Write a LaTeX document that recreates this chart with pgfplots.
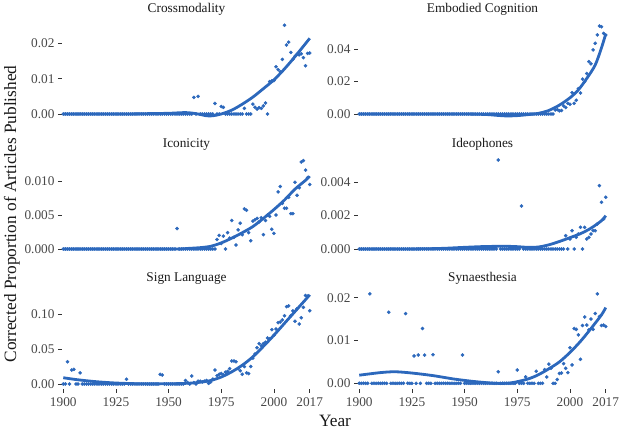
\documentclass[border=0pt]{standalone}
\usepackage{pgfplots}
\pgfplotsset{compat=1.18}
\usepackage{fontspec}
\setmainfont{Liberation Serif}
\definecolor{ptblue}{RGB}{44,104,188}
\pgfplotsset{
  panel/.style={
    scale only axis, width=249bp, height=98bp,
    anchor=south west,
    xmin=1899.4, xmax=2017.6,
    axis line style={draw=none},
    tick align=outside,
    major tick length=4bp,
    tick style={draw=black!80, line width=0.8bp},
    xtick=\empty,
    ytick pos=left, xtick pos=bottom,
    scaled y ticks=false, scaled x ticks=false,
    tick label style={font=\fontsize{13.3bp}{15bp}\selectfont, text=black!72},
    xticklabel style={yshift=-2bp},
    title style={at={(0.5,1)}, anchor=base, yshift=3bp, inner sep=0pt, font=\fontsize{13.3bp}{15bp}\selectfont, text=black!90},
    clip=false,
  },
  bottomrow/.style={xtick={1900,1925,1950,1975,2000,2017}, xticklabels={1900,1925,1950,1975,2000,2017}},
  pts/.style={only marks, mark=*, mark size=1.6bp, color=ptblue},
  fit/.style={no marks, color=ptblue, line width=2.8bp, smooth},
}
\begin{document}
\begin{tikzpicture}
\useasboundingbox (0,0) rectangle (619bp,429bp);
% ---------------- Crossmodality
\begin{axis}[panel, at={(62bp,310bp)}, title={Crossmodality},
  ymin=-0.00142, ymax=0.02642, ytick={0,0.01,0.02}, yticklabels={0.00,0.01,0.02}]
\addplot[pts] coordinates {
(1900,0)(1901,0)(1902,0)(1903,0)(1904,0)(1905,0)(1906,0)(1907,0)(1908,0)(1909,0)
(1910,0)(1911,0)(1912,0)(1913,0)(1914,0)(1915,0)(1916,0)(1917,0)(1918,0)(1919,0)
(1920,0)(1921,0)(1922,0)(1923,0)(1924,0)(1925,0)(1926,0)(1927,0)(1928,0)(1929,0)
(1930,0)(1931,0)(1932,0)(1933,0)(1934,0)(1935,0)(1936,0)(1937,0)(1938,0)(1939,0)
(1940,0)(1941,0)(1942,0)(1943,0)(1944,0)(1945,0)(1946,0)(1947,0)(1948,0)(1949,0)
(1950,0)(1951,0)(1952,0)(1953,0)(1954,0)(1955,0)(1956,0)(1957,0)(1958,0)(1959,0)
(1960,0)(1961,0)(1962,0.0047)(1963,0)(1964,0.0050)(1965,0)(1966,0)(1967,0)(1968,0)(1969,0)
(1970,0)(1971,0)(1972,0.0030)(1973,0)(1974,0)(1975,0.0021)(1976,0.0019)(1977,0)(1978,0)(1979,0)
(1980,0)(1981,0)(1982,0)(1983,0)(1984,0)(1985,0)(1986,0.0016)(1987,0)(1988,0)(1989,0)
(1990,0.0028)(1991,0.0019)(1992,0.0014)(1993,0.0018)(1994,0.0016)(1995,0.0023)(1996,0.0031)(1997,0)(1998,0.0092)(1999,0.0094)
(2000,0.0095)(2001,0.0134)(2002,0.0126)(2003,0.0120)(2004,0.0155)(2005,0.0252)(2006,0.0196)(2007,0.0204)(2008,0.0175)(2009,0.0155)
(2010,0.0164)(2011,0.0170)(2012,0.0168)(2013,0.0171)(2014,0.0160)(2015,0.0137)(2016,0.0172)(2017,0.0173)};
\addplot[fit] coordinates {
(1900,0)(1910,0)(1920,0)(1930,0)(1940,0.0001)(1950,0.0002)(1958,0.0004)(1963,0.0001)(1968,-0.0005)(1971,-0.0005)
(1975,0)(1980,0.0011)(1985,0.0028)(1990,0.0048)(1995,0.0072)(2000,0.0097)(2005,0.0128)(2010,0.0163)(2015,0.0200)(2017,0.0215)};
\end{axis}
% ---------------- Embodied Cognition
\begin{axis}[panel, at={(358bp,310bp)}, title={Embodied Cognition},
  ymin=-0.00309, ymax=0.05751, ytick={0,0.02,0.04}, yticklabels={0.00,0.02,0.04}]
\addplot[pts] coordinates {
(1900,0)(1901,0)(1902,0)(1903,0)(1904,0)(1905,0)(1906,0)(1907,0)(1908,0)(1909,0)
(1910,0)(1911,0)(1912,0)(1913,0)(1914,0)(1915,0)(1916,0)(1917,0)(1918,0)(1919,0)
(1920,0)(1921,0)(1922,0)(1923,0)(1924,0)(1925,0)(1926,0)(1927,0)(1928,0)(1929,0)
(1930,0)(1931,0)(1932,0)(1933,0)(1934,0)(1935,0)(1936,0)(1937,0)(1938,0)(1939,0)
(1940,0)(1941,0)(1942,0)(1943,0)(1944,0)(1945,0)(1946,0)(1947,0)(1948,0)(1949,0)
(1950,0)(1951,0)(1952,0)(1953,0)(1954,0)(1955,0)(1956,0)(1957,0)(1958,0)(1959,0)
(1960,0)(1961,0)(1962,0)(1963,0)(1964,0)(1965,0)(1966,0)(1967,0)(1968,0)(1969,0)
(1970,0)(1971,0)(1972,0)(1973,0)(1974,0)(1975,0)(1976,0)(1977,0)(1978,0)(1979,0)
(1980,0)(1981,0)(1982,0)(1983,0)(1984,0)(1985,0)(1986,0)(1987,0)(1988,0)(1989,0)
(1990,0)(1991,0)(1992,0)(1993,0.0025)(1994,0.0027)(1995,0.0020)(1996,0.0022)(1997,0.0050)(1998,0.0040)(1999,0.0066)
(2000,0.0060)(2001,0.0132)(2002,0.0066)(2003,0.0085)(2004,0.0157)(2005,0.0130)(2006,0.0216)(2007,0.0200)(2008,0.0250)(2009,0.0324)
(2010,0.0310)(2011,0.0396)(2012,0.0437)(2013,0.0489)(2014,0.0544)(2015,0.0540)(2016,0.0498)(2017,0.0489)};
\addplot[fit] coordinates {
(1900,0)(1920,0)(1940,0)(1950,0)(1960,-0.0003)(1965,-0.0008)(1970,-0.0012)(1975,-0.0010)(1980,-0.0004)(1985,0.0004)
(1990,0.0022)(1995,0.0055)(2000,0.0100)(2004,0.0149)(2008,0.0220)(2012,0.0303)(2015,0.0410)(2017,0.0495)};
\end{axis}
% ---------------- Iconicity
\begin{axis}[panel, at={(62bp,175bp)}, title={Iconicity},
  ymin=-0.000735, ymax=0.013676, ytick={0,0.005,0.010}, yticklabels={0.000,0.005,0.010}]
\addplot[pts] coordinates {
(1900,0)(1901,0)(1902,0)(1903,0)(1904,0)(1905,0)(1906,0)(1907,0)(1908,0)(1909,0)
(1910,0)(1911,0)(1912,0)(1913,0)(1914,0)(1915,0)(1916,0)(1917,0)(1918,0)(1919,0)
(1920,0)(1921,0)(1922,0)(1923,0)(1924,0)(1925,0)(1926,0)(1927,0)(1928,0)(1929,0)
(1930,0)(1931,0)(1932,0)(1933,0)(1934,0)(1935,0)(1936,0)(1937,0)(1938,0)(1939,0)
(1940,0)(1941,0)(1942,0)(1943,0)(1944,0)(1945,0)(1946,0)(1947,0)(1948,0)(1949,0)
(1950,0)(1951,0)(1952,0)(1953,0)(1954,0.0030)(1955,0)(1956,0)(1957,0)(1958,0)(1959,0)
(1960,0)(1961,0)(1962,0)(1963,0)(1964,0)(1965,0)(1966,0)(1967,0)(1968,0)(1969,0)
(1970,0)(1971,0)(1972,0)(1973,0.0014)(1974,0.0020)(1975,0.0008)(1976,0.0019)(1977,0)(1978,0.0024)(1979,0.0016)
(1980,0.0042)(1981,0.0017)(1982,0.0006)(1983,0.0028)(1984,0.0038)(1985,0.0021)(1986,0.0059)(1987,0.0057)(1988,0.0024)(1989,0.0012)
(1990,0.0041)(1991,0.0043)(1992,0.0045)(1993,0.0040)(1994,0.0046)(1995,0.0021)(1996,0.0042)(1997,0.0050)(1998,0.0048)(1999,0.0029)
(2000,0.0023)(2001,0.0050)(2002,0.0084)(2003,0.0092)(2004,0.0067)(2005,0.0060)(2006,0.0060)(2007,0.0076)(2008,0.0052)(2009,0.0052)
(2010,0.0098)(2011,0.0079)(2012,0.0090)(2013,0.0128)(2014,0.0130)(2015,0.0116)(2016,0.0105)(2017,0.0095)};
\addplot[fit] coordinates {
(1900,0)(1920,0)(1940,0)(1950,0)(1955,0)(1960,0.0001)(1965,0.0002)(1970,0.0004)(1975,0.0009)(1980,0.0016)
(1985,0.0024)(1990,0.0033)(1995,0.0045)(2000,0.0058)(2005,0.0072)(2010,0.0088)(2015,0.0101)(2017,0.0107)};
\end{axis}
% ---------------- Ideophones
\begin{axis}[panel, at={(358bp,175bp)}, title={Ideophones},
  ymin=-0.0003, ymax=0.005579, ytick={0,0.002,0.004}, yticklabels={0.000,0.002,0.004}]
\addplot[pts] coordinates {
(1900,0)(1901,0)(1902,0)(1903,0)(1904,0)(1905,0)(1906,0)(1907,0)(1908,0)(1909,0)
(1910,0)(1911,0)(1912,0)(1913,0)(1914,0)(1915,0)(1916,0)(1917,0)(1918,0)(1919,0)
(1920,0)(1921,0)(1922,0)(1923,0)(1924,0)(1925,0)(1926,0)(1927,0)(1928,0)(1929,0)
(1930,0)(1931,0)(1932,0)(1933,0)(1934,0)(1935,0)(1936,0)(1937,0)(1938,0)(1939,0)
(1940,0)(1941,0)(1942,0)(1943,0)(1944,0)(1945,0)(1946,0)(1947,0)(1948,0)(1949,0)
(1950,0)(1951,0)(1952,0)(1953,0)(1954,0)(1955,0)(1956,0)(1957,0)(1958,0)(1959,0)
(1960,0)(1961,0)(1962,0)(1963,0)(1964,0)(1965,0)(1966,0.00534)(1967,0)(1968,0)(1969,0)
(1970,0)(1971,0)(1972,0)(1973,0)(1974,0)(1975,0)(1976,0)(1977,0.00258)(1978,0)(1979,0)
(1980,0)(1981,0)(1982,0)(1983,0)(1984,0)(1985,0)(1986,0)(1987,0)(1988,0)(1989,0)
(1990,0)(1991,0)(1992,0)(1993,0)(1994,0)(1995,0)(1996,0)(1997,0)(1998,0.0008)(1999,0)
(2000,0.0006)(2001,0.0011)(2002,0)(2003,0.0007)(2004,0.0009)(2005,0.0013)(2006,0)(2007,0.0013)(2008,0.0006)(2009,0.0007)
(2010,0.0009)(2011,0.0011)(2012,0.0011)(2013,0.0015)(2014,0.0038)(2015,0.0028)(2016,0.0018)(2017,0.0031)};
\addplot[fit] coordinates {
(1900,0)(1920,0)(1930,0.00001)(1940,0.00004)(1950,0.0001)(1960,0.00015)(1970,0.00016)(1975,0.00014)(1980,0.00010)(1985,0.00012)
(1990,0.00025)(1995,0.00045)(2000,0.00068)(2005,0.00092)(2010,0.00125)(2015,0.0017)(2017,0.0020)};
\end{axis}
% ---------------- Sign Language
\begin{axis}[panel, bottomrow, at={(62bp,40.5bp)}, title={Sign Language},
  ymin=-0.00646, ymax=0.13415, ytick={0,0.05,0.10}, yticklabels={0.00,0.05,0.10}]
\addplot[pts] coordinates {
(1900,0)(1901,0)(1902,0.032)(1903,0)(1904,0.020)(1905,0.021)(1906,0)(1907,0)(1908,0.016)(1909,0)
(1910,0)(1911,0)(1912,0)(1913,0)(1914,0)(1915,0)(1916,0)(1917,0)(1918,0)(1919,0)
(1920,0)(1921,0)(1922,0)(1923,0)(1924,0)(1925,0)(1926,0)(1927,0)(1928,0)(1929,0)
(1930,0.0068)(1931,0)(1932,0)(1933,0)(1934,0)(1935,0)(1936,0)(1937,0)(1938,0)(1939,0)
(1940,0)(1941,0)(1942,0)(1943,0)(1944,0)(1945,0)(1946,0.0139)(1947,0.013)(1948,0)(1949,0)
(1950,0)(1951,0)(1952,0)(1953,0)(1954,0)(1955,0)(1956,0)(1957,0)(1958,0.005)(1959,0.002)
(1960,0)(1961,0.0115)(1962,0.002)(1963,0)(1964,0.004)(1965,0.004)(1966,0.003)(1967,0.004)(1968,0.005)(1969,0.001)
(1970,0.003)(1971,0.007)(1972,0.020)(1973,0.012)(1974,0.014)(1975,0.015)(1976,0.013)(1977,0.017)(1978,0.018)(1979,0.022)
(1980,0.033)(1981,0.033)(1982,0.032)(1983,0.022)(1984,0.019)(1985,0.014)(1986,0.025)(1987,0.016)(1988,0.015)(1989,0.025)
(1990,0.037)(1991,0.043)(1992,0.052)(1993,0.058)(1994,0.055)(1995,0.058)(1996,0.060)(1997,0.066)(1998,0.065)(1999,0.078)
(2000,0.070)(2001,0.079)(2002,0.088)(2003,0.089)(2004,0.092)(2005,0.098)(2006,0.111)(2007,0.112)(2008,0.098)(2009,0.105)
(2010,0.090)(2011,0.108)(2012,0.086)(2013,0.095)(2014,0.110)(2015,0.127)(2016,0.126)(2017,0.105)};
\addplot[fit] coordinates {
(1900,0.0090)(1905,0.0068)(1910,0.0050)(1915,0.0035)(1920,0.0023)(1925,0.0014)(1930,0.0008)(1935,0.0004)(1940,0.0002)(1945,0.0002)
(1950,0.0003)(1955,0.0006)(1960,0.0012)(1965,0.0025)(1970,0.0050)(1975,0.0100)(1980,0.0175)(1985,0.027)(1990,0.039)(1995,0.054)
(2000,0.070)(2005,0.087)(2010,0.104)(2015,0.121)(2017,0.128)};
\end{axis}
% ---------------- Synaesthesia
\begin{axis}[panel, bottomrow, at={(358bp,40.5bp)}, title={Synaesthesia},
  ymin=-0.00121, ymax=0.02168, ytick={0,0.01,0.02}, yticklabels={0.00,0.01,0.02}]
\addplot[pts] coordinates {
(1900,0)(1901,0)(1902,0)(1903,0)(1904,0)(1905,0.0209)(1906,0)(1907,0)(1908,0)(1909,0)
(1910,0)(1911,0)(1912,0)(1913,0)(1914,0.0166)(1915,0)(1916,0)(1917,0)(1918,0)(1919,0)
(1920,0)(1921,0)(1922,0.0163)(1923,0)(1924,0)(1925,0)(1926,0.0064)(1927,0)(1928,0.0066)(1929,0)
(1930,0.0128)(1931,0.0066)(1932,0)(1933,0)(1934,0)(1935,0.0067)(1936,0)(1937,0)(1938,0)(1939,0)
(1940,0)(1941,0)(1942,0)(1943,0)(1944,0)(1945,0)(1946,0)(1947,0)(1948,0)(1949,0.0066)
(1950,0)(1951,0)(1952,0)(1953,0)(1954,0)(1955,0)(1956,0)(1957,0)(1958,0)(1959,0)
(1960,0)(1961,0)(1962,0)(1963,0)(1964,0)(1965,0)(1966,0.0027)(1967,0)(1968,0)(1969,0)
(1970,0)(1971,0)(1972,0)(1973,0)(1974,0)(1975,0.0031)(1976,0)(1977,0)(1978,0)(1979,0.0015)
(1980,0)(1981,0)(1982,0)(1983,0)(1984,0.0028)(1985,0)(1986,0)(1987,0)(1988,0.0032)(1989,0.0015)
(1990,0.0045)(1991,0.0035)(1992,0)(1993,0)(1994,0.0009)(1995,0.0023)(1996,0.0024)(1997,0.0046)(1998,0.0035)(1999,0.0025)
(2000,0.0083)(2001,0.0043)(2002,0.0128)(2003,0.0126)(2004,0.0113)(2005,0.0056)(2006,0.0135)(2007,0.0155)(2008,0.0136)(2009,0.0125)
(2010,0.0150)(2011,0.0126)(2012,0.0163)(2013,0.0209)(2014,0.0156)(2015,0.0135)(2016,0.0136)(2017,0.0133)};
\addplot[fit] coordinates {
(1900,0.0019)(1910,0.0025)(1917,0.0027)(1925,0.0024)(1935,0.0018)(1945,0.0010)(1955,0.0004)(1965,0.0000)(1972,0.0001)(1980,0.0010)
(1985,0.0020)(1990,0.0034)(1995,0.0050)(2000,0.0072)(2005,0.0098)(2010,0.0128)(2015,0.0160)(2017,0.0177)};
\end{axis}
\node[rotate=90, font=\fontsize{17.3bp}{20bp}\selectfont, text=black!90] at (12bp,215bp) {Corrected Proportion of Articles Published};
\node[font=\fontsize{17.3bp}{20bp}\selectfont, text=black!90] at (335bp,8bp) {Year};
\end{tikzpicture}
\end{document}
